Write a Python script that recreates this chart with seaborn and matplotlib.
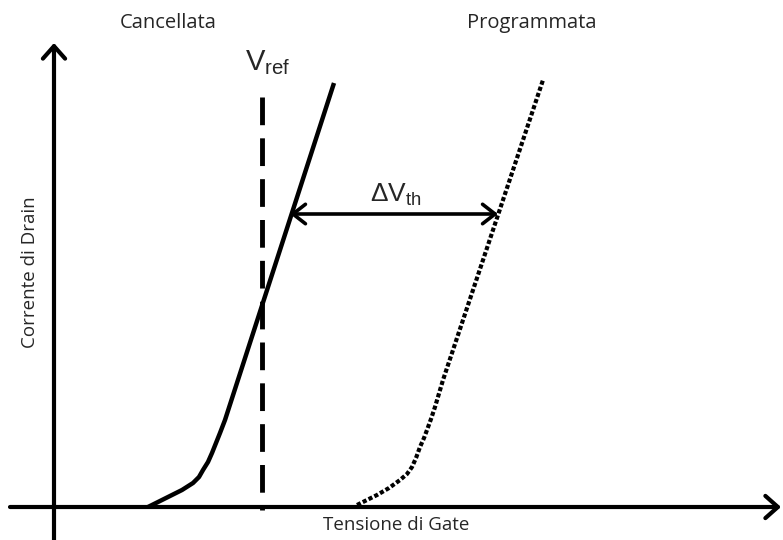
import matplotlib
matplotlib.use("Agg")
import matplotlib.pyplot as plt
import seaborn as sns
import pandas as pd
from matplotlib.patches import FancyArrowPatch

# ---- data (arbitrary units: gate voltage vs drain current) ----
erased_vg = [94, 104, 116, 128, 139, 145, 149, 154, 158, 162, 166, 171, 280]
erased_id = [0, 5, 11, 17, 24, 30, 37, 45, 54, 64, 74, 87, 424]
prog_vg = [303, 313, 323, 335, 346, 353, 358, 362, 366, 370, 373, 377, 381, 389, 489]
prog_id = [2, 7, 12, 19, 27, 33, 40, 49, 60, 69, 77, 88, 100, 127, 427]
v_ref = 208
v_ref_top = 410
dvth_level = 293
dvth_left = 236
dvth_right = 444

labels_top = ["Cancellata", "Programmata"]
x_label = "Tensione di Gate"
y_label = "Corrente di Drain"

sns.set_style("white")
plt.rcParams["font.family"] = ["Open Sans", "DejaVu Sans"]
plt.rcParams["mathtext.fontset"] = "custom"
plt.rcParams["mathtext.rm"] = "Liberation Sans"
plt.rcParams["mathtext.it"] = "Liberation Sans"
plt.rcParams["mathtext.sf"] = "Liberation Sans"

fig = plt.figure(figsize=(7.83, 5.40), dpi=100)
ax = fig.add_axes([0, 0, 1, 1])
ax.set_xlim(-54, 729)
ax.set_ylim(-33, 507)
ax.axis("off")

df_e = pd.DataFrame({"Vg": erased_vg, "Id": erased_id})
df_p = pd.DataFrame({"Vg": prog_vg, "Id": prog_id})

sns.lineplot(data=df_e, x="Vg", y="Id", sort=False, ax=ax, color="black",
             linewidth=3.2, solid_capstyle="butt", solid_joinstyle="round")
sns.lineplot(data=df_p, x="Vg", y="Id", sort=False, ax=ax, color="black",
             linewidth=3.0, linestyle=(0, (1, 0.55)), dash_capstyle="butt")

# V_ref dashed line (drawn from top so a dash starts there)
ax.plot([v_ref, v_ref], [v_ref_top, -3], color="black", linewidth=3.5,
        linestyle=(0, (5.7, 2.7)), dash_capstyle="butt")

# axes with arrows
ax.add_patch(FancyArrowPatch((0, -33), (0, 464), arrowstyle="->,head_length=0.45,head_width=0.4",
                             mutation_scale=20, color="black", linewidth=3, shrinkA=0, shrinkB=0))
ax.add_patch(FancyArrowPatch((-44, 0), (727, 0), arrowstyle="->,head_length=0.45,head_width=0.4",
                             mutation_scale=20, color="black", linewidth=3, shrinkA=0, shrinkB=0))

# Delta Vth double arrow
ax.add_patch(FancyArrowPatch((dvth_left, dvth_level), (dvth_right, dvth_level),
                             arrowstyle="<->,head_length=0.45,head_width=0.35",
                             mutation_scale=20, color="black", linewidth=2.6, shrinkA=0, shrinkB=0))

ax.text(342, dvth_level + 6, r"$\Delta\mathrm{V}_{\mathrm{th}}$", fontsize=19,
        ha="center", va="bottom")
ax.text(v_ref + 6, 430, r"$\mathrm{V}_{\mathrm{ref}}$", fontsize=21, ha="center", va="bottom")

ax.text(114, 484, labels_top[0], fontsize=14.5, ha="center", va="center")
ax.text(478, 484, labels_top[1], fontsize=14.5, ha="center", va="center")
ax.text(342, -18, x_label, fontsize=13.5, ha="center", va="center")
ax.text(-24, 235, y_label, fontsize=13.5, ha="center", va="center", rotation=90)

fig.savefig("out.png", dpi=100)
